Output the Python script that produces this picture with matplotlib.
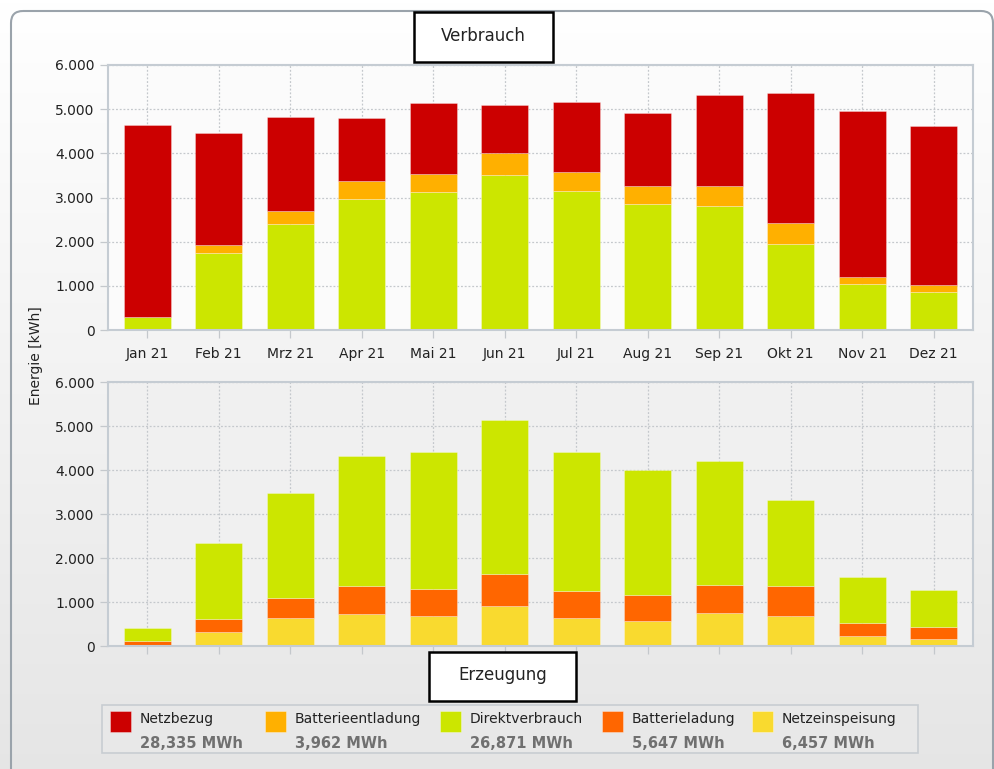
import numpy as np
import matplotlib
matplotlib.use("Agg")
import matplotlib.pyplot as plt
from matplotlib.patches import FancyBboxPatch, Rectangle
from matplotlib.ticker import FuncFormatter, MultipleLocator

# ---------------- data (kWh) ----------------
months = ["Jan 21", "Feb 21", "Mrz 21", "Apr 21", "Mai 21", "Jun 21",
          "Jul 21", "Aug 21", "Sep 21", "Okt 21", "Nov 21", "Dez 21"]
direktverbrauch   = [300, 1745, 2395, 2965, 3120, 3500, 3155, 2850, 2815, 1955, 1040, 850]
batterieentladung = [0, 173, 310, 415, 408, 514, 415, 407, 437, 476, 166, 166]
netzbezug         = [4339, 2544, 2128, 1411, 1622, 1071, 1585, 1661, 2076, 2935, 3759, 3592]
netzeinspeisung   = [15, 325, 634, 732, 672, 906, 634, 566, 740, 672, 226, 158]
batterieladung    = [105, 279, 453, 626, 626, 732, 626, 589, 656, 686, 302, 272]

legend_names = ["Netzbezug", "Batterieentladung", "Direktverbrauch", "Batterieladung", "Netzeinspeisung"]
legend_values = ["28,335 MWh", "3,962 MWh", "26,871 MWh", "5,647 MWh", "6,457 MWh"]

col = {"Netzbezug": "#cc0000", "Batterieentladung": "#ffb000", "Direktverbrauch": "#cce600",
       "Batterieladung": "#ff6600", "Netzeinspeisung": "#f9da2f"}

W, H = 995, 769
fig = plt.figure(figsize=(W / 100, H / 100), dpi=100)
plt.rcParams['font.family'] = ['DejaVu Sans']

def ax_rect(l, t, r, b):
    return [l / W, 1 - b / H, (r - l) / W, (b - t) / H]

# background gradient
bg = fig.add_axes([0, 0, 1, 1], zorder=-10)
grad = np.linspace(1.0, 0.90, 256).reshape(-1, 1)
bg.imshow(np.dstack([grad, grad, grad]), aspect="auto", extent=[0, W, H, 0])
bg.add_patch(FancyBboxPatch((11, 11), 982, H + 20, boxstyle="round,pad=0,rounding_size=12",
                            fc="none", ec="#9aa3ab", lw=1.5))
bg.set_xlim(0, W); bg.set_ylim(H, 0); bg.axis("off")

x = np.arange(len(months))
fmt = FuncFormatter(lambda v, p: f"{int(v):,}".replace(",", "."))

def style(ax, face):
    ax.set_facecolor(face)
    ax.set_xlim(-0.55, 11.55)
    ax.set_ylim(0, 6000)
    ax.yaxis.set_major_locator(MultipleLocator(1000))
    ax.yaxis.set_major_formatter(fmt)
    ax.set_xticks(x)
    ax.grid(True, color="#c4c8cc", linestyle=(0, (1.5, 1.5)), linewidth=0.9)
    ax.set_axisbelow(True)
    for s in ax.spines.values():
        s.set_color("#c5ccd3"); s.set_linewidth(1.5)
    ax.tick_params(axis="both", colors="#c4c8cc", length=6, width=0.9, labelcolor="#222222",
                   labelsize=10)

ew = dict(edgecolor=(1, 1, 1, 0.35), linewidth=0.6)
bw = 0.66

ax1 = fig.add_axes(ax_rect(108, 65, 973, 330))
style(ax1, "#fbfbfb")
b1 = np.array(direktverbrauch)
b2 = b1 + np.array(batterieentladung)
ax1.bar(x, direktverbrauch, bw, color=col["Direktverbrauch"], **ew)
ax1.bar(x, batterieentladung, bw, bottom=b1, color=col["Batterieentladung"], **ew)
ax1.bar(x, netzbezug, bw, bottom=b2, color=col["Netzbezug"], **ew)
ax1.set_xticklabels(months)
ax1.tick_params(axis="x", pad=6)

ax2 = fig.add_axes(ax_rect(108, 382, 973, 646))
style(ax2, "#f0f0f0")
c1 = np.array(netzeinspeisung)
c2 = c1 + np.array(batterieladung)
ax2.bar(x, netzeinspeisung, bw, color=col["Netzeinspeisung"], **ew)
ax2.bar(x, batterieladung, bw, bottom=c1, color=col["Batterieladung"], **ew)
ax2.bar(x, direktverbrauch, bw, bottom=c2, color=col["Direktverbrauch"], **ew)
ax2.set_xticklabels([])

fig.text(36 / W, 1 - 356 / H, "Energie [kWh]", rotation=90, ha="center", va="center",
         fontsize=10, color="#222222")

# title boxes
ov = fig.add_axes([0, 0, 1, 1], zorder=10)
ov.set_xlim(0, W); ov.set_ylim(H, 0); ov.axis("off")
ov.add_patch(Rectangle((414, 12), 139, 50, fc="white", ec="black", lw=1.8))
ov.text(483.5, 36, "Verbrauch", ha="center", va="center", fontsize=12, color="#222222")
ov.add_patch(Rectangle((429, 652), 147, 49, fc="white", ec="black", lw=1.8))
ov.text(502.5, 675, "Erzeugung", ha="center", va="center", fontsize=12, color="#222222")

# legend
ov.add_patch(Rectangle((102, 705), 816, 48, fc="#e8e8e8", ec="#c8cdd2", lw=1.2))
sw_x = [110, 265, 440, 602, 752]
for name, val, sx in zip(legend_names, legend_values, sw_x):
    ov.add_patch(Rectangle((sx, 711), 21, 21, fc=col[name], ec=(1, 1, 1, 0.4), lw=0.6))
    ov.text(sx + 30, 719, name, ha="left", va="center", fontsize=10, color="#222222")
    ov.text(sx + 30, 743, val, ha="left", va="center", fontsize=10.5, color="#707070",
            fontweight="bold")

fig.savefig("out.png", dpi=100)
